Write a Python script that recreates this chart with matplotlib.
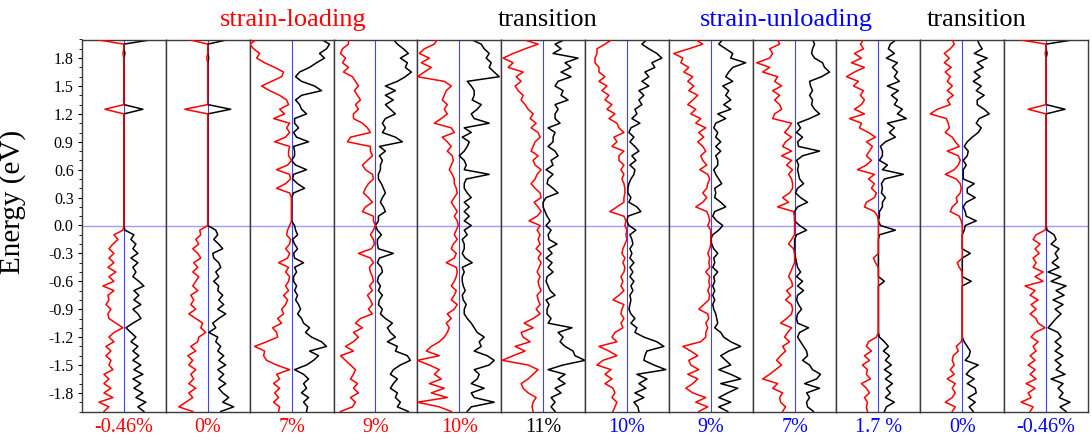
import numpy as np
import matplotlib.pyplot as plt
from matplotlib.ticker import MultipleLocator, FormatStrFormatter

# energy grid (eV), top to bottom
energy = np.linspace(2.0, -2.0, 81)

panel_labels = ['-0.46%', '0%', '7%', '9%', '10%', '11%',
                '10%', '9%', '7%', '1.7 %', '0%', '-0.46%']
label_colors = ['red'] * 5 + ['black'] + ['blue'] * 6

group_titles = ['strain-loading', 'transition', 'strain-unloading', 'transition']
group_colors = ['red', 'black', 'blue', 'black']
group_xpos = [293, 548, 786, 977]   # pixel centre of each heading

# ---- spin-up (black, right) / spin-down (red, left) DOS, rows of 10 points ----
# loading -0.46 %
up_ld_m046 = [29, 0, 0, 1, 0, 0, 0, 0, 0, 0,
              0, 0, 0, 0, 0, 19, 0, 0, 0, 0,
              0, 0, 0, 0, 0, 0, 0, 0, 0, 0,
              0, 0, 0, 0, 0, 0, 0, 0, 0, 0,
              0, 1, 10, 7, 12, 9, 14, 7, 14, 9,
              12, 9, 15, 20, 10, 15, 10, 17, 9, 14,
              17, 9, 2, 7, 12, 7, 14, 9, 15, 9,
              17, 10, 19, 9, 17, 10, 19, 12, 22, 14,
              20]
dn_ld_m046 = [-28, 0, 0, -1, 0, 0, 0, 0, 0, 0,
              0, 0, 0, 0, 0, -19, 0, 0, 0, 0,
              0, 0, 0, 0, 0, 0, 0, 0, 0, 0,
              0, 0, 0, 0, 0, 0, 0, 0, 0, 0,
              0, -1, -10, -6, -11, -15, -10, -15, -10, -16,
              -8, -15, -10, -21, -10, -16, -15, -18, -13, -16,
              -15, -8, -1, -10, -15, -10, -18, -13, -18, -13,
              -15, -11, -20, -15, -20, -13, -20, -11, -25, -15,
              -20]
# loading 0 %
up_ld_0 = [21, 0, 0, 0, 1, 0, 0, 0, 0, 0,
           0, 0, 0, 0, 0, 23, 0, 0, 0, 0,
           0, 0, 0, 0, 0, 0, 0, 0, 0, 0,
           0, 0, 0, 0, 0, 0, 0, 0, 0, 0,
           0, 8, 10, 6, 11, 15, 5, 6, 11, 13,
           8, 11, 6, 11, 10, 15, 11, 16, 10, 18,
           11, 5, 8, 1, 10, 8, 13, 10, 16, 11,
           18, 10, 16, 11, 18, 11, 15, 21, 15, 26,
           13]
dn_ld_0 = [-19, 0, 0, 0, -1, 0, 0, 0, 0, 0,
           0, 0, 0, 0, 0, -23, 0, 0, 0, 0,
           0, 0, 0, 0, 0, 0, 0, 0, 0, 0,
           0, 0, 0, 0, 0, 0, 0, 0, 0, 0,
           0, -8, -7, -12, -9, -15, -10, -7, -14, -10,
           -15, -9, -12, -15, -10, -17, -14, -17, -12, -19,
           -12, -5, -7, -2, -9, -10, -17, -12, -20, -15,
           -19, -12, -17, -14, -19, -12, -19, -15, -22, -29,
           -15]
# loading 7 %
up_ld_7 = [30, 38, 35, 28, 33, 25, 18, 8, 4, 10,
           23, 30, 10, 4, 8, 10, 15, 3, 3, 7,
           2, 5, 17, 2, 3, 3, 0, 4, 15, 2,
           1, 6, 13, 2, 0, 0, 0, 0, 0, 0,
           3, 4, 6, 1, 3, 6, 2, 3, 12, 3,
           5, 2, 2, 5, 3, 6, 4, 7, 9, 6,
           10, 12, 18, 14, 20, 30, 35, 18, 27, 22,
           15, 3, 12, 17, 12, 15, 10, 17, 12, 16,
           15]
dn_ld_7 = [-35, -42, -38, -32, -35, -27, -17, -8, -10, -20,
           -30, -22, -12, -5, -3, -12, -7, -18, -2, -5,
           -2, -6, -17, -2, -3, -3, 0, -4, -15, -2,
           -1, -6, -15, -2, 0, 0, 0, 0, 0, 0,
           -2, -4, -5, -1, -2, -6, -2, -4, -13, -3,
           -6, -2, -3, -6, -3, -8, -4, -6, -10, -8,
           -14, -10, -19, -15, -14, -25, -37, -27, -28, -25,
           -15, -2, -15, -12, -18, -12, -17, -13, -18, -12,
           -13]
# loading 9 %
up_ld_9 = [18, 22, 28, 33, 25, 32, 30, 36, 30, 22,
           10, 20, 10, 18, 10, 15, 20, 10, 7, 10,
           7, 20, 27, 4, 10, 4, 7, 5, 5, 3,
           3, 6, 8, 10, 7, 5, 8, 10, 3, 3,
           0, 2, 6, 2, 2, 3, 18, 4, 2, 6,
           7, 3, 2, 5, 3, 7, 4, 3, 7, 5,
           10, 17, 12, 15, 20, 12, 22, 20, 32, 35,
           25, 18, 15, 22, 18, 15, 22, 20, 25, 22,
           33]
dn_ld_9 = [-27, -27, -33, -35, -30, -33, -27, -32, -23, -20,
           -17, -21, -18, -15, -20, -17, -22, -22, -13, -8,
           -5, -25, -28, -5, -5, -3, -8, -13, -10, -3,
           -2, -7, -10, -12, -7, -3, -10, -13, -2, -2,
           0, -2, -5, -2, -1, -4, -17, -5, -2, -6,
           -5, -3, -2, -6, -3, -8, -5, -3, -7, -3,
           -15, -20, -13, -22, -17, -22, -30, -22, -35, -30,
           -25, -20, -22, -25, -18, -22, -17, -25, -20, -23,
           -35]
# loading 10 %
up_ld_10 = [12, 22, 25, 30, 27, 32, 30, 35, 40, 8,
            12, 15, 15, 13, 22, 18, 12, 15, 30, 5,
            12, 3, 10, 8, 5, 0, 5, 7, 5, 30,
            7, 5, 5, 8, 12, 5, 10, 5, 10, 5,
            12, 5, 8, 3, 5, 5, 3, 6, 13, 3,
            5, 3, 3, 4, 6, 3, 4, 7, 5, 5,
            8, 12, 15, 18, 25, 20, 22, 15, 28, 35,
            30, 15, 20, 18, 12, 25, 12, 15, 35, 12,
            8]
dn_ld_10 = [-22, -25, -35, -40, -30, -38, -28, -35, -42, -15,
            -8, -13, -15, -17, -12, -15, -12, -18, -25, -8,
            -5, -17, -12, -8, -12, -7, -6, -8, -10, -7,
            -5, -5, -3, -2, -5, -8, -5, -2, -5, -2,
            -1, -3, -5, -2, -6, -8, -3, -5, -13, -3,
            -2, -3, -5, -8, -3, -5, -8, -2, -5, -12,
            -8, -13, -10, -12, -15, -20, -28, -33, -20, -42,
            -30, -20, -25, -18, -30, -15, -28, -12, -42, -20,
            -8]
# transition 11 %
up_tr_11 = [22, 12, 18, 10, 35, 22, 28, 18, 28, 15,
            12, 20, 18, 25, 12, 15, 12, 12, 17, 5,
            12, 10, 10, 5, 12, 15, 8, 10, 3, 10,
            5, 4, 10, 15, 3, 0, 0, 2, 4, 7,
            3, 8, 5, 6, 14, 5, 9, 3, 9, 5,
            10, 4, 3, 5, 7, 12, 3, 6, 4, 4,
            8, 5, 29, 15, 20, 17, 22, 30, 32, 42,
            20, 5, 22, 15, 22, 12, 18, 8, 12, 8,
            12]
dn_tr_11 = [-20, -5, -18, -30, -40, -30, -35, -20, -27, -22,
            -28, -25, -20, -22, -18, -15, -10, -13, -7, -12,
            -5, -3, -8, -10, -12, -5, -10, -8, -2, -6,
            -8, -12, -8, -3, -2, -9, -5, -2, -6, -14,
            -3, -6, -3, -5, -3, -7, -2, -5, -2, -4,
            -6, -3, -5, -4, -2, -6, -5, -3, -7, -3,
            -10, -19, -10, -22, -20, -13, -28, -18, -30, -41,
            -15, -5, -10, -15, -22, -20, -15, -7, -10, -11,
            -10]
# unloading 10 %
up_ul_10 = [20, 15, 22, 30, 35, 25, 28, 18, 22, 15,
            22, 12, 17, 12, 15, 8, 10, 5, 13, 4,
            2, 7, 3, 8, 12, 5, 9, 3, 8, 7,
            4, 2, 1, 1, 4, 2, 10, 14, 1, 0,
            2, 9, 3, 5, 6, 3, 5, 3, 7, 3,
            6, 3, 7, 4, 6, 3, 4, 3, 2, 4,
            8, 4, 10, 8, 17, 30, 37, 20, 18, 17,
            27, 39, 10, 20, 12, 19, 8, 17, 7, 11,
            12]
dn_ul_10 = [-15, -22, -30, -30, -32, -32, -28, -28, -22, -28,
            -20, -25, -18, -22, -15, -20, -12, -18, -10, -8,
            -3, -13, -10, -15, -3, -8, -8, -3, -6, -3,
            -5, -3, -2, -2, -3, -3, -10, -17, -3, -1,
            -2, 0, -1, 0, -2, -4, -5, -2, -4, -2,
            -3, -6, -4, -6, -3, -8, -14, -3, -5, -6,
            -3, -6, -4, -12, -15, -10, -28, -18, -10, -24,
            -30, -16, -22, -15, -22, -14, -12, -15, -10, -12,
            -14]
# unloading 9 %
up_ul_9 = [12, 8, 15, 22, 20, 35, 22, 18, 15, 22,
           12, 18, 15, 20, 13, 20, 7, 15, 5, 3,
           7, 5, 10, 5, 10, 5, 7, 7, 3, 5,
           8, 11, 4, 5, 4, 10, 15, 4, 2, 6,
           12, 8, 2, 0, 1, 3, 7, 3, 4, 2,
           7, 3, 4, 2, 4, 2, 4, 2, 3, 5,
           6, 7, 4, 10, 13, 20, 30, 18, 10, 15,
           20, 8, 20, 30, 10, 27, 17, 8, 20, 8,
           17]
dn_ul_9 = [-15, -8, -22, -37, -28, -30, -22, -27, -18, -23,
           -17, -22, -13, -18, -23, -15, -20, -10, -15, -5,
           -12, -7, -13, -8, -5, -10, -8, -4, -11, -3,
           -1, -3, -4, -8, -4, -8, -15, -4, -2, -1,
           -3, 0, 0, 0, 0, -1, -3, -1, -2, -1,
           -5, -1, -2, -1, -3, -1, -2, -7, -12, -3,
           -2, -5, -3, -5, -5, -10, -28, -20, -13, -22,
           -20, -12, -23, -13, -18, -25, -18, -5, -15, -3,
           -12]
# unloading 7 %
up_ul_7 = [18, 20, 18, 17, 20, 28, 30, 35, 27, 15,
           16, 18, 15, 18, 17, 20, 25, 15, 3, 6,
           2, 8, 3, 4, 25, 8, 2, 4, 3, 4,
           5, 9, 3, 1, 6, 13, 3, 0, 0, 0,
           5, 12, 2, 0, 0, 0, 0, 1, 2, 3,
           6, 2, 8, 3, 9, 3, 2, 4, 7, 3,
           2, 3, 14, 5, 3, 6, 9, 12, 13, 8,
           15, 18, 26, 22, 10, 25, 12, 15, 12, 13,
           19]
dn_ul_7 = [-17, -15, -25, -22, -25, -38, -25, -32, -17, -20,
           -13, -22, -15, -20, -15, -13, -20, -22, -3, -6,
           -10, -3, -9, -12, -3, -13, -3, -8, -2, -6,
           -3, -2, -2, -5, -12, -6, -17, -1, 0, 0,
           0, 0, 0, -3, -6, -1, 0, 0, 0, -2,
           -4, -6, -3, -2, -8, -4, -9, -3, -2, -3,
           -8, -14, -3, -7, -10, -5, -12, -9, -14, -18,
           -13, -19, -25, -32, -17, -22, -12, -15, -14, -9,
           -12]
# unloading 1.7 %
up_ul_17 = [18, 12, 10, 16, 8, 19, 14, 19, 16, 21,
            9, 20, 13, 19, 16, 24, 19, 28, 9, 16,
            11, 17, 7, 2, 4, 4, 1, 9, 4, 25,
            6, 3, 4, 3, 7, 4, 4, 1, 1, 0,
            2, 17, 1, 0, 0, 0, 0, 0, 0, 0,
            0, 0, 6, 0, 0, 0, 0, 0, 0, 0,
            0, 0, 0, 0, 1, 6, 10, 5, 11, 7,
            13, 6, 13, 7, 14, 8, 12, 7, 16, 8,
            6]
dn_ul_17 = [-15, -18, -15, -24, -17, -27, -14, -24, -32, -20,
            -25, -15, -18, -14, -17, -24, -14, -29, -17, -19,
            -10, -3, -12, -6, -9, -12, -7, -12, -21, -4,
            -10, -4, -7, -2, -4, -12, -14, -4, -1, 0,
            0, 0, 0, 0, 0, 0, 0, -5, -3, 0,
            0, 0, 0, 0, 0, 0, 0, 0, 0, 0,
            0, 0, 0, 0, -2, -10, -12, -7, -14, -9,
            -16, -11, -12, -8, -17, -12, -9, -14, -11, -12,
            -11]
# unloading 0 %
up_ul_0 = [15, 17, 20, 12, 25, 15, 21, 12, 18, 11,
           19, 14, 22, 15, 15, 22, 27, 17, 14, 19,
           16, 10, 5, 2, 6, 5, 1, 4, 1, 1,
           1, 12, 5, 5, 13, 4, 1, 3, 4, 14,
           3, 2, 0, 0, 0, 0, 8, 0, 0, 0,
           0, 0, 9, 0, 0, 0, 0, 0, 0, 0,
           0, 0, 0, 0, 0, 2, 5, 8, 7, 3,
           16, 8, 4, 12, 5, 13, 14, 6, 13, 7,
           11]
dn_ul_0 = [-10, -8, -12, -18, -13, -18, -11, -17, -12, -15,
           -10, -15, -9, -15, -12, -25, -32, -16, -14, -13,
           -17, -10, -7, -3, -15, -4, -2, -4, -8, -17,
           -6, -2, -1, -2, -6, -5, -10, -12, -3, -1,
           0, 0, 0, 0, 0, 0, 0, 0, -5, -3,
           0, 0, 0, 0, 0, 0, 0, 0, 0, 0,
           0, 0, 0, 0, 0, -1, -6, -4, -9, -10,
           -8, -12, -8, -15, -7, -10, -7, -10, -17, -7,
           -10]
# unloading -0.46 %
up_ul_m046 = [29, 0, 0, 1, 0, 0, 0, 0, 0, 0,
              0, 0, 0, 0, 0, 19, 0, 0, 0, 0,
              0, 0, 0, 0, 0, 0, 0, 0, 0, 0,
              0, 0, 0, 0, 0, 0, 0, 0, 0, 0,
              0, 1, 8, 10, 5, 13, 9, 12, 6, 13,
              2, 15, 5, 20, 10, 18, 7, 17, 9, 15,
              10, 6, 2, 12, 15, 9, 15, 9, 17, 9,
              15, 10, 19, 5, 17, 12, 17, 13, 24, 14,
              20]
dn_ul_m046 = [-28, 0, 0, -1, 0, 0, 0, 0, 0, 0,
              0, 0, 0, 0, 0, -18, 0, 0, 0, 0,
              0, 0, 0, 0, 0, 0, 0, 0, 0, 0,
              0, 0, 0, 0, 0, 0, 0, 0, 0, 0,
              0, -1, -10, -13, -6, -11, -7, -13, -10, -13,
              -3, -11, -3, -21, -11, -16, -8, -15, -10, -16,
              -10, -8, -1, -11, -15, -8, -13, -10, -16, -11,
              -18, -11, -16, -10, -20, -11, -18, -15, -25, -13,
              -16]

ups = [up_ld_m046, up_ld_0, up_ld_7, up_ld_9, up_ld_10, up_tr_11,
       up_ul_10, up_ul_9, up_ul_7, up_ul_17, up_ul_0, up_ul_m046]
dns = [dn_ld_m046, dn_ld_0, dn_ld_7, dn_ld_9, dn_ld_10, dn_tr_11,
       dn_ul_10, dn_ul_9, dn_ul_7, dn_ul_17, dn_ul_0, dn_ul_m046]

# ================= style =================
plt.rcParams['font.family'] = ['Liberation Serif', 'DejaVu Serif']
plt.rcParams['axes.unicode_minus'] = False

W, H = 1092, 441
fig, axes = plt.subplots(1, 12, figsize=(W / 100, H / 100), dpi=100, sharey=True)
fig.subplots_adjust(left=82 / W, right=1088 / W, bottom=1 - 411.5 / H,
                    top=1 - 39.5 / H, wspace=0)

for i, ax in enumerate(axes):
    ax.axhline(0, color='#9c9cff', lw=1.0, zorder=1)
    ax.axvline(0, color='#4040ff', lw=0.8, zorder=1)
    ax.plot(ups[i], energy, color='black', lw=1.1, zorder=2)
    ax.plot(dns[i], energy, color='#ff0000', lw=1.1, zorder=3)
    ax.set_xlim(-42, 42)
    ax.set_ylim(-2.0, 2.0)
    ax.set_xticks([])
    for s in ax.spines.values():
        s.set_color('#3a3a3a')
        s.set_linewidth(1.0)
    ax.text(0.5, -0.018, panel_labels[i], color=label_colors[i],
            transform=ax.transAxes, ha='center', va='top', fontsize=14.5)
    if i > 0:
        ax.tick_params(axis='y', which='both', left=False)

ax0 = axes[0]
ax0.yaxis.set_major_locator(MultipleLocator(0.3))
ax0.yaxis.set_minor_locator(MultipleLocator(0.1))
ax0.yaxis.set_major_formatter(FormatStrFormatter('%.1f'))
ax0.tick_params(axis='y', which='major', direction='out', length=3, pad=3, labelsize=11.5)
ax0.tick_params(axis='y', which='minor', direction='out', length=2)
ax0.set_ylabel('Energy (eV)', fontsize=21)
ax0.yaxis.set_label_coords(-0.67, 0.563)

for t, c, xp in zip(group_titles, group_colors, group_xpos):
    fig.text(xp / W, 1 - 20 / H, t, color=c, fontsize=19, ha='center', va='center')

plt.savefig('out.png', dpi=100)
